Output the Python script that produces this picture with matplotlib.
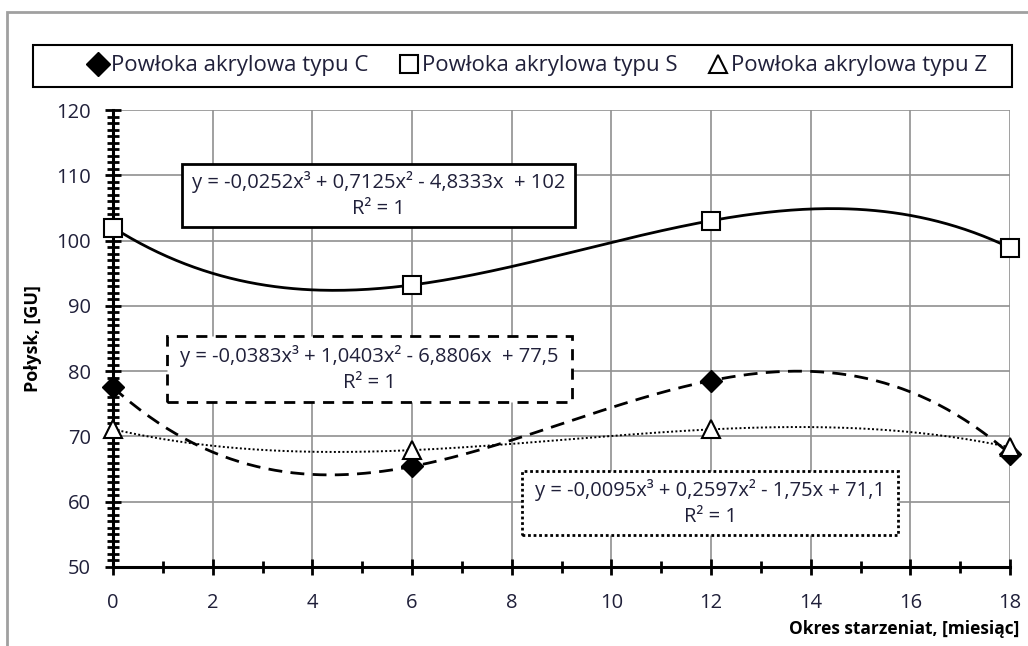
import numpy as np
import matplotlib.pyplot as plt
from matplotlib.patches import Rectangle
from matplotlib.lines import Line2D
from matplotlib.ticker import MultipleLocator

plt.rcParams['font.family'] = ['Open Sans', 'DejaVu Sans']

# Dane
months = [0, 6, 12, 18]
typ_c = [77.5, 65.4, 78.55, 67.3]
typ_s = [102.0, 93.2, 103.05, 98.9]
typ_z = [71.1, 67.9, 71.08, 68.34]
labels = ['Powłoka akrylowa typu C', 'Powłoka akrylowa typu S', 'Powłoka akrylowa typu Z']
eq_s = 'y = -0,0252x³ + 0,7125x² - 4,8333x  + 102\nR² = 1'
eq_c = 'y = -0,0383x³ + 1,0403x² - 6,8806x  + 77,5\nR² = 1'
eq_z = 'y = -0,0095x³ + 0,2597x² - 1,75x + 71,1\nR² = 1'

txt = '#20203a'
fig = plt.figure(figsize=(10.28, 6.46), dpi=100)
ax = fig.add_axes([0.110, 0.1223, 0.8725, 0.7074])

# Linie trendu (wielomian 3 stopnia)
xx = np.linspace(0, 18, 300)
for ys, ls, lw in [(typ_s, '-', 2.0), (typ_c, (0, (5, 3)), 2.0), (typ_z, (0, (1, 1.2)), 1.4)]:
    p = np.polyfit(months, ys, 3)
    ax.plot(xx, np.polyval(p, xx), color='black', linestyle=ls, linewidth=lw, zorder=3)

ax.plot(months, typ_c, linestyle='none', marker='D', ms=11, color='black', zorder=4, clip_on=False)
ax.plot(months, typ_s, linestyle='none', marker='s', ms=13, mfc='white', mec='black', mew=1.5, zorder=4, clip_on=False)
ax.plot(months, typ_z, linestyle='none', marker='^', ms=13, mfc='white', mec='black', mew=1.5, zorder=4, clip_on=False)

ax.set_xlim(0, 18)
ax.set_ylim(50, 120)
ax.xaxis.set_major_locator(MultipleLocator(2))
ax.xaxis.set_minor_locator(MultipleLocator(1))
ax.yaxis.set_major_locator(MultipleLocator(10))
ax.yaxis.set_minor_locator(MultipleLocator(1))
ax.grid(True, which='major', color='#909090', linewidth=1.2)
ax.set_axisbelow(True)
for s in ['top', 'right']:
    ax.spines[s].set_visible(False)
for s in ['left', 'bottom']:
    ax.spines[s].set_linewidth(2.2)
ax.tick_params(which='both', direction='inout', width=2, colors='black', labelcolor=txt, labelsize=14.5)
ax.tick_params(which='major', length=12)
ax.tick_params(which='minor', length=8)
ax.tick_params(axis='x', pad=13)
ax.tick_params(axis='y', pad=10)

ax.set_ylabel('Połysk, [GU]', fontsize=13, fontweight='bold', labelpad=10)
fig.text(0.992, 0.012, 'Okres starzeniat, [miesiąc]', fontsize=12.5, fontweight='bold', ha='right', va='bottom')

# Ramki z równaniami
def box(x0, y0, x1, y1, ls, text):
    fig.patches.append(Rectangle((x0 / 1028, 1 - y1 / 646), (x1 - x0) / 1028, (y1 - y0) / 646,
                                 transform=fig.transFigure, fill=True, facecolor='white', edgecolor='black',
                                 linewidth=2, linestyle=ls, zorder=5))
    fig.text((x0 + x1) / 2 / 1028, 1 - (y0 + y1) / 2 / 646, text, ha='center', va='center',
             fontsize=14.5, color=txt, linespacing=1.4, zorder=6)

box(182, 164, 575, 227, '-', eq_s)
box(167, 336, 572, 402, (0, (4, 3)), eq_c)
box(522, 471, 898, 535, (0, (1, 1)), eq_z)

# Legenda
handles = [Line2D([], [], linestyle='none', marker='D', ms=12, color='black'),
           Line2D([], [], linestyle='none', marker='s', ms=13, mfc='white', mec='black', mew=1.5),
           Line2D([], [], linestyle='none', marker='^', ms=13, mfc='white', mec='black', mew=1.5)]
leg = fig.legend(handles, labels, loc='center', bbox_to_anchor=(537 / 1028, 1 - 66 / 646), ncol=3,
                 fontsize=16, frameon=False, handletextpad=0.1, handlelength=1.0,
                 columnspacing=1.3, labelcolor=txt)
fig.patches.append(Rectangle((33 / 1028, 1 - 87 / 646), (1012 - 33) / 1028, 42 / 646,
                             transform=fig.transFigure, fill=False, edgecolor='black', linewidth=1.5))

# Ramka wykresu
fig.patches.append(Rectangle((7 / 1028, -0.1), 1.2, 1 - 12 / 646 + 0.1, transform=fig.transFigure,
                             fill=False, edgecolor='#a0a0a0', linewidth=2))

fig.savefig('out.png', dpi=100)
